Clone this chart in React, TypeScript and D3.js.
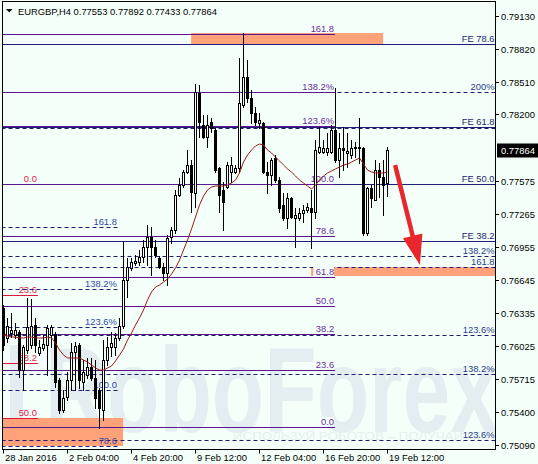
import React from 'react';
import * as d3 from 'd3';

// ---- data (EURGBP H4, 97 bars) ----
const openP = [
  0.76381, 0.76099, 0.76146, 0.76127, 0.76155, 0.75798, 0.75986, 0.76033, 0.76221, 0.75958,
  0.76005, 0.76033, 0.76127, 0.76136, 0.75704, 0.75422, 0.75544, 0.75704, 0.75967, 0.76033,
  0.75685, 0.75751, 0.75826, 0.75723, 0.75610, 0.75422, 0.75892, 0.76014, 0.76014, 0.76099,
  0.76212, 0.76644, 0.76757, 0.76804, 0.76813, 0.76860, 0.76954, 0.77048, 0.76954, 0.76851,
  0.76766, 0.76710, 0.77048, 0.77114, 0.77443, 0.77537, 0.77659, 0.77725, 0.77462, 0.78402,
  0.78101, 0.77988, 0.78129, 0.78054, 0.77697, 0.77490, 0.77518, 0.77659, 0.77659, 0.77697,
  0.78289, 0.78552, 0.78355, 0.78214, 0.78120, 0.78120, 0.77659, 0.77631, 0.77791, 0.77584,
  0.77349, 0.77227, 0.77415, 0.77227, 0.77227, 0.77274, 0.77302, 0.77321, 0.77283, 0.77847,
  0.77847, 0.77847, 0.77847, 0.78054, 0.77772, 0.77885, 0.77838, 0.77819, 0.77885, 0.77894,
  0.77885, 0.77086, 0.77509, 0.77396, 0.77678, 0.77612, 0.77553,
];
const highP = [
  0.76409, 0.76287, 0.76334, 0.76240, 0.76174, 0.76033, 0.76475, 0.76465, 0.76287, 0.76080,
  0.76127, 0.76221, 0.76221, 0.76155, 0.75723, 0.75610, 0.75779, 0.76052, 0.76061, 0.76052,
  0.75892, 0.75911, 0.75911, 0.75892, 0.75629, 0.76080, 0.76108, 0.76155, 0.76146, 0.76287,
  0.77001, 0.76851, 0.76851, 0.76879, 0.76926, 0.77020, 0.77161, 0.77142, 0.77020, 0.76870,
  0.76804, 0.77067, 0.77142, 0.77490, 0.77603, 0.77678, 0.77866, 0.77772, 0.78486, 0.78477,
  0.78195, 0.78195, 0.78167, 0.78073, 0.77706, 0.77565, 0.77753, 0.77800, 0.77725, 0.78731,
  0.78966, 0.78712, 0.78430, 0.78270, 0.78214, 0.78129, 0.77753, 0.77791, 0.77819, 0.77612,
  0.77462, 0.77462, 0.77424, 0.77321, 0.77321, 0.77349, 0.77368, 0.77490, 0.77960, 0.78082,
  0.77960, 0.78026, 0.78101, 0.78449, 0.78026, 0.78082, 0.78026, 0.77960, 0.77941, 0.78167,
  0.77894, 0.77518, 0.77537, 0.77772, 0.77744, 0.77772, 0.77892,
];
const lowP = [
  0.75986, 0.76061, 0.76108, 0.76099, 0.75732, 0.75610, 0.75958, 0.76005, 0.75967, 0.75939,
  0.75986, 0.75751, 0.76014, 0.75638, 0.75394, 0.75403, 0.75516, 0.75610, 0.75610, 0.75629,
  0.75610, 0.75723, 0.75704, 0.75441, 0.75253, 0.75328, 0.75845, 0.75930, 0.75939, 0.76080,
  0.76193, 0.76484, 0.76738, 0.76785, 0.76785, 0.76813, 0.76785, 0.76691, 0.76860, 0.76757,
  0.76644, 0.76597, 0.76992, 0.77086, 0.77434, 0.77518, 0.77650, 0.77283, 0.77330, 0.77988,
  0.77979, 0.77894, 0.78035, 0.77659, 0.77283, 0.77114, 0.77509, 0.77565, 0.77650, 0.77659,
  0.78270, 0.78317, 0.78120, 0.78101, 0.78073, 0.77650, 0.77462, 0.77537, 0.77565, 0.77283,
  0.77208, 0.77133, 0.77227, 0.76954, 0.77208, 0.77189, 0.77283, 0.76945, 0.77227, 0.77838,
  0.77838, 0.77819, 0.77838, 0.77753, 0.77612, 0.77678, 0.77706, 0.77791, 0.77800, 0.77744,
  0.77067, 0.77067, 0.77330, 0.77396, 0.77424, 0.77255, 0.77433,
];
const closeP = [
  0.76033, 0.76212, 0.76174, 0.76174, 0.75798, 0.76014, 0.76202, 0.76212, 0.76033, 0.76014,
  0.76042, 0.76193, 0.76202, 0.75685, 0.75422, 0.75535, 0.75704, 0.75967, 0.76024, 0.75704,
  0.75779, 0.75826, 0.75723, 0.75535, 0.75441, 0.75892, 0.76014, 0.76052, 0.76099, 0.76212,
  0.76644, 0.76766, 0.76813, 0.76823, 0.76860, 0.76954, 0.77048, 0.76954, 0.76879, 0.76766,
  0.76710, 0.77039, 0.77114, 0.77443, 0.77537, 0.77659, 0.77725, 0.77471, 0.78411, 0.78129,
  0.77988, 0.78101, 0.78073, 0.77678, 0.77443, 0.77377, 0.77725, 0.77725, 0.77697, 0.78308,
  0.78552, 0.78355, 0.78214, 0.78129, 0.78148, 0.77659, 0.77631, 0.77772, 0.77584, 0.77321,
  0.77227, 0.77415, 0.77236, 0.77255, 0.77274, 0.77302, 0.77330, 0.77283, 0.77866, 0.77894,
  0.77885, 0.77885, 0.78054, 0.77772, 0.77885, 0.77866, 0.77857, 0.77885, 0.77894, 0.77885,
  0.77086, 0.77509, 0.77415, 0.77678, 0.77612, 0.77537, 0.77864,
];
const maP = [
  0.76127, 0.76118, 0.76108, 0.76108, 0.76099, 0.76099, 0.76108, 0.76108, 0.76099, 0.76099,
  0.76099, 0.76108, 0.76099, 0.76052, 0.75986, 0.75939, 0.75911, 0.75911, 0.75911, 0.75911,
  0.75892, 0.75873, 0.75845, 0.75817, 0.75798, 0.75798, 0.75817, 0.75836, 0.75883, 0.75939,
  0.75995, 0.76080, 0.76146, 0.76221, 0.76287, 0.76362, 0.76456, 0.76531, 0.76578, 0.76597,
  0.76625, 0.76653, 0.76700, 0.76757, 0.76832, 0.76926, 0.77020, 0.77123, 0.77236, 0.77349,
  0.77434, 0.77490, 0.77518, 0.77528, 0.77528, 0.77528, 0.77537, 0.77556, 0.77584, 0.77650,
  0.77753, 0.77819, 0.77866, 0.77904, 0.77922, 0.77913, 0.77866, 0.77838, 0.77800, 0.77763,
  0.77725, 0.77688, 0.77659, 0.77622, 0.77584, 0.77556, 0.77528, 0.77499, 0.77537, 0.77584,
  0.77622, 0.77650, 0.77669, 0.77688, 0.77706, 0.77725, 0.77734, 0.77753, 0.77772, 0.77791,
  0.77734, 0.77678, 0.77659, 0.77650, 0.77650, 0.77650, 0.77659,
];

const title = 'EURGBP,H4  0.77553 0.77892 0.77433 0.77864';
const lastPrice = 0.77864;
const priceTicks = [0.7913, 0.7882, 0.7851, 0.782, 0.77575, 0.77265, 0.76955, 0.76645, 0.76335, 0.76025, 0.75715, 0.754, 0.7509];
const timeTickIdx = [0, 16, 32, 48, 64, 80, 96];
const timeTickLabels = ['28 Jan 2016', '2 Feb 04:00', '4 Feb 20:00', '9 Feb 12:00', '12 Feb 04:00', '16 Feb 20:00', '19 Feb 12:00'];

// Fibonacci sets
const purpleLevels = [0.75262, 0.75798, 0.76136, 0.764, 0.76672, 0.77058, 0.77546, 0.78092, 0.78411, 0.78956];
const purpleLabels = ['0.0', '23.6', '38.2', '50.0', '61.8', '78.6', '100.0', '123.6%', '138.2%', '161.8'];
const purpleSpan = [-0.5, 82.9];
const redLevels = [0.77546, 0.76503, 0.75864, 0.75347];
const redLabels = ['0.0', '23.6', '38.2', '50.0'];
const redSpan = [-0.5, 8.6];
const blueLevels = [0.75084, 0.7561, 0.76202, 0.76559, 0.77142];
const blueLabels = ['78.6', '100.0', '123.6%', '138.2%', '161.8'];
const blueSpan = [-0.5, 28.6];
const feLevels = [0.78862, 0.78087, 0.77546, 0.77011];
const feLabels = ['FE 78.6', 'FE 61.8', 'FE 50.0', 'FE 38.2'];
const dashLevels = [0.78411, 0.78073, 0.7687, 0.76766, 0.76127, 0.75761, 0.7514];
const dashLabels = ['200%', '', '138.2%', '161.8', '123.6%', '138.2%', '123.6%'];

const zoneX0 = [46.9, 76.9, -0.5];
const zoneX1 = [94.9, 123, 29.9];
const zoneTop = [0.78966, 0.76766, 0.75347];
const zoneBottom = [0.78862, 0.76682, 0.75084];

const arrowFrom = [97.9, 0.77725];
const arrowTo = [104.1, 0.76785];

const FONT = "'Liberation Sans', Arial, sans-serif";
const BG = '#F4FFF9';

export default function App() {
  const x = d3.scaleLinear().domain([0, 96]).range([3.5, 387.5]);
  const y = d3.scaleLinear().domain([0.75046, 0.79248]).range([450, 3]);
  const hy = (v: number) => Math.round(y(v)) + 0.5;
  const L = 2.5, T = 1.5, R = 495.5, B = 449.5;
  const xEnd = x.invert(R);
  const idx = d3.range(openP.length);
  const maPath = d3.line<number>().x(i => x(i)).y(i => y(maP[i])).curve(d3.curveLinear)(idx) || '';

  const fontSize = 9.4;

  // arrow geometry
  const ax0 = x(arrowFrom[0]), ay0 = y(arrowFrom[1]);
  const ax1 = x(arrowTo[0]), ay1 = y(arrowTo[1]);
  const dx = ax1 - ax0, dy = ay1 - ay0, len = Math.hypot(dx, dy);
  const ux = dx / len, uy = dy / len;
  const headLen = 30, headW = 10;
  const bx = ax1 - ux * headLen, by = ay1 - uy * headLen;
  const headPts = `${ax1},${ay1} ${bx + uy * headW},${by - ux * headW} ${bx - uy * headW},${by + ux * headW}`;

  const levelSet = (levels: number[], labels: string[], span: number[], stroke: string, dash: string | undefined, labelColor: string, key: string, labelBg = false) => (
    <g key={key}>
      {levels.map((v, k) => (
        <line key={'l' + k} x1={x(span[0])} x2={x(span[1])} y1={hy(v)} y2={hy(v)} stroke={stroke} strokeWidth={1} strokeDasharray={dash} />
      ))}
      {labels.map((t, k) => t ? (
        <g key={'t' + k}>
          {labelBg && <rect x={x(span[1]) - 1 - t.length * 5.2} y={hy(levels[k]) - 10.5} width={t.length * 5.2} height={9} fill={BG} />}
          <text x={x(span[1]) - 1} y={hy(levels[k]) - 2.5} textAnchor="end" fill={labelColor} fontSize={fontSize} fontFamily={FONT}>{t}</text>
        </g>
      ) : null)}
    </g>
  );

  return (
    <svg width={538} height={464} style={{ position: 'absolute', left: 0, top: 0, background: BG }} xmlns="http://www.w3.org/2000/svg">
      <defs>
        <clipPath id="plot"><rect x={L} y={T} width={R - L} height={B - T} /></clipPath>
      </defs>
      <rect x={0} y={0} width={538} height={464} fill={BG} />
      <g clipPath="url(#plot)">
        {/* watermark */}
        <rect x={10} y={345} width={13} height={88} fill="#E4EDEF" />
        <text x={45} y={432} fontSize={121} fontWeight="bold" fontFamily={FONT} fill="#E4EDEF" textLength={453} lengthAdjust="spacingAndGlyphs">RoboForex</text>
        <text x={233} y={440} fontSize={10} fontFamily={FONT} fill="#E6EEEE" textLength={300} lengthAdjust="spacingAndGlyphs">ИСПОЛЬЗУЙ РОБОТОВ – ПОЛУЧАЙ ПРИБЫЛЬ</text>

        {/* zones */}
        {zoneX0.map((z, k) => (
          <rect key={'z' + k} x={x(z)} y={y(zoneTop[k])} width={x(zoneX1[k]) - x(z)} height={y(zoneBottom[k]) - y(zoneTop[k])} fill="#FFA27A" />
        ))}

        {levelSet(redLevels, redLabels, redSpan, '#E0143C', undefined, '#E8204A', 'red')}
        {levelSet(dashLevels, dashLabels, [-0.5, xEnd], '#1E1E78', '4,3', '#2A3A8C', 'dash')}
        {levelSet(feLevels, feLabels, [-0.5, xEnd], '#1E1E78', undefined, '#1E2870', 'fe')}
        {levelSet(blueLevels, blueLabels, blueSpan, '#1E1E78', '4,3', '#3048A8', 'blue')}
        {levelSet(purpleLevels, purpleLabels, purpleSpan, '#5B178F', undefined, '#6A2CA0', 'purple', true)}

        {/* candles */}
        {idx.map(i => {
          const o = openP[i], c = closeP[i];
          const bull = c >= o;
          const top = Math.round(y(Math.max(o, c))) + 0.5;
          const bot = Math.round(y(Math.min(o, c))) + 0.5;
          return (
            <g key={'c' + i}>
              <line x1={x(i)} x2={x(i)} y1={Math.round(y(highP[i]))} y2={Math.round(y(lowP[i])) + 1} stroke="#000" strokeWidth={1} />
              <rect x={x(i) - 1} y={top} width={2} height={Math.max(bot - top, 0)} fill={bull ? '#FFFFFF' : '#000000'} stroke="#000" strokeWidth={1} />
            </g>
          );
        })}

        {/* moving average */}
        <path d={maPath} fill="none" stroke="#9B1B1B" strokeWidth={1} />

        {/* arrow */}
        <line x1={ax0} y1={ay0} x2={bx + ux * 2} y2={by + uy * 2} stroke="#E8262B" strokeWidth={4.5} />
        <polygon points={headPts} fill="#E8262B" />

        {/* title */}
        <path d="M6,9 L12.5,9 L9.25,12.5 Z" fill="#000" />
        <text x={18} y={14.5} fontSize={fontSize} fontFamily={FONT} fill="#000">{title}</text>
      </g>

      {/* frame */}
      <rect x={L} y={T} width={R - L} height={B - T} fill="none" stroke="#000" strokeWidth={1} />

      {/* price axis */}
      {priceTicks.map((p, k) => (
        <g key={'p' + k}>
          <line x1={R} x2={R + 3.5} y1={hy(p)} y2={hy(p)} stroke="#000" />
          <text x={501} y={hy(p) + 3.3} fontSize={fontSize} fontFamily={FONT} fill="#000">{p.toFixed(5)}</text>
        </g>
      ))}
      <rect x={497} y={hy(lastPrice) - 7} width={41} height={14} fill="#000" />
      <text x={501} y={hy(lastPrice) + 3.3} fontSize={fontSize} fontFamily={FONT} fill="#FFF">{lastPrice.toFixed(5)}</text>

      {/* time axis */}
      {timeTickIdx.map((t, k) => (
        <g key={'t' + k}>
          <line x1={x(t)} x2={x(t)} y1={B} y2={B + 4} stroke="#000" />
          <text x={x(t) + 1.5} y={460.5} fontSize={fontSize} fontFamily={FONT} fill="#000">{timeTickLabels[k]}</text>
        </g>
      ))}
    </svg>
  );
}
